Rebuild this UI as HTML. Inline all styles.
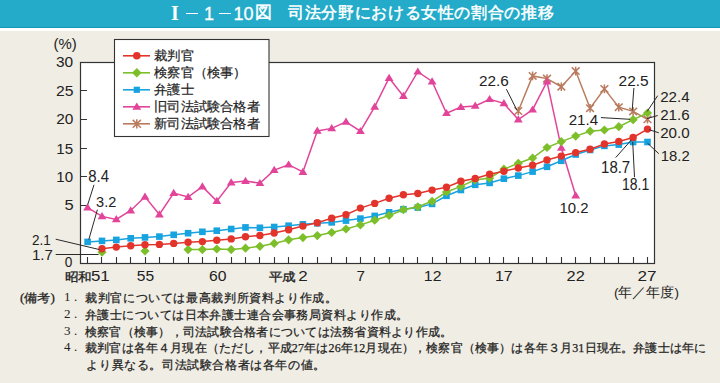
<!DOCTYPE html>
<html><head><meta charset="utf-8"><style>
html,body{margin:0;padding:0;}
body{width:720px;height:383px;overflow:hidden;background:#f0ede4;position:relative;font-family:"Liberation Sans",sans-serif;}
.bar{position:absolute;left:0;top:0;width:720px;height:26.5px;background:#23abc9;border-bottom:1px solid #1596b4;}
.wl{position:absolute;left:0;top:27.5px;width:720px;height:3.5px;background:#fff;}
.tI{position:absolute;left:171px;top:2.5px;color:#fff;font:bold 20px/20px "Liberation Serif",serif;}
.dash{position:absolute;top:12.5px;width:12px;height:1.6px;background:#fff;}
.t1{position:absolute;top:3.8px;color:#fff;font:18px/20px "Liberation Sans",sans-serif;-webkit-text-stroke:0.3px #fff;}
.tj{position:absolute;top:3px;color:#fff;font-size:16px;letter-spacing:0.65px;line-height:20px;white-space:nowrap;-webkit-text-stroke:0.5px #fff;}
svg{position:absolute;left:0;top:0;}
.n{font-family:"Liberation Sans",sans-serif;font-size:15px;fill:#222;}
.cj{font-size:11.6px;stroke:#222;stroke-width:0.3px;}
.lg{font-family:"Liberation Sans",sans-serif;font-size:13px;fill:#222;stroke:#222;stroke-width:0.2px;}
.sm{font-family:"Liberation Sans",sans-serif;font-size:13.5px;fill:#222;}
.nt{font-family:"Liberation Serif",serif;font-size:12px;fill:#222;stroke:#222;stroke-width:0.25px;}
.nd{font-family:"Liberation Serif",serif;font-size:13px;fill:#222;}
</style></head><body>
<div class="bar"></div><div class="wl"></div>
<div class="tI">I</div><div class="dash" style="left:186px"></div><div class="t1" style="left:204px">1</div><div class="dash" style="left:219px"></div><div class="t1" style="left:233.5px">10</div><div class="tj" style="left:255px;font-size:17px;top:2.5px">図</div><div class="tj" style="left:288px">司法分野における女性の割合の推移</div>
<svg width="720" height="383" viewBox="0 0 720 383">
<rect x="80.5" y="62.5" width="574" height="201" fill="#fff" stroke="#333" stroke-width="1.2"/>
<path d="M87.5 257V263M101.5 257V263M116.5 257V263M130.5 257V263M145.5 257V263M159.5 257V263M173.5 257V263M188.5 257V263M202.5 257V263M216.5 257V263M231.5 257V263M245.5 257V263M259.5 257V263M274.5 257V263M288.5 257V263M302.5 257V263M317.5 257V263M331.5 257V263M346.5 257V263M360.5 257V263M374.5 257V263M389.5 257V263M403.5 257V263M417.5 257V263M432.5 257V263M446.5 257V263M460.5 257V263M475.5 257V263M489.5 257V263M503.5 257V263M518.5 257V263M532.5 257V263M546.5 257V263M561.5 257V263M575.5 257V263M590.5 257V263M604.5 257V263M618.5 257V263M633.5 257V263M647.5 257V263" stroke="#333" stroke-width="1.1"/>
<path d="M80 90.5H87M80 119.5H87M80 148.5H87M80 176.5H87M80 205.5H87" stroke="#333" stroke-width="1.1"/>
<polyline points="518.3,111.0 532.6,75.9 547.0,78.6 561.3,86.7 575.7,71.1 590.1,108.2 604.4,88.9 618.8,107.2 633.1,111.4 647.5,119.3" fill="none" stroke="#b97b5e" stroke-width="1.5"/>
<path d="M518.3 106.7V115.3M514.4 107.3L522.1 114.7M514.4 114.7L522.1 107.3" stroke="#b97b5e" stroke-width="1.5" fill="none"/>
<path d="M532.6 71.6V80.2M528.8 72.2L536.5 79.6M528.8 79.6L536.5 72.2" stroke="#b97b5e" stroke-width="1.5" fill="none"/>
<path d="M547.0 74.3V82.9M543.1 74.9L550.9 82.3M543.1 82.3L550.9 74.9" stroke="#b97b5e" stroke-width="1.5" fill="none"/>
<path d="M561.3 82.4V91.0M557.5 83.0L565.2 90.4M557.5 90.4L565.2 83.0" stroke="#b97b5e" stroke-width="1.5" fill="none"/>
<path d="M575.7 66.8V75.4M571.8 67.4L579.6 74.8M571.8 74.8L579.6 67.4" stroke="#b97b5e" stroke-width="1.5" fill="none"/>
<path d="M590.1 103.9V112.5M586.2 104.5L593.9 111.9M586.2 111.9L593.9 104.5" stroke="#b97b5e" stroke-width="1.5" fill="none"/>
<path d="M604.4 84.6V93.2M600.5 85.2L608.3 92.6M600.5 92.6L608.3 85.2" stroke="#b97b5e" stroke-width="1.5" fill="none"/>
<path d="M618.8 102.9V111.5M614.9 103.5L622.6 110.9M614.9 110.9L622.6 103.5" stroke="#b97b5e" stroke-width="1.5" fill="none"/>
<path d="M633.1 107.1V115.7M629.3 107.7L637.0 115.1M629.3 115.1L637.0 107.7" stroke="#b97b5e" stroke-width="1.5" fill="none"/>
<path d="M647.5 115.0V123.6M643.6 115.6L651.4 123.0M643.6 123.0L651.4 115.6" stroke="#b97b5e" stroke-width="1.5" fill="none"/>
<polyline points="87.6,207.6 102.0,216.4 116.3,219.4 130.7,210.5 145.0,196.8 159.4,214.5 173.7,193.0 188.1,197.0 202.4,186.6 216.8,201.1 231.2,182.5 245.5,181.1 259.9,183.2 274.2,170.1 288.6,164.7 302.9,172.0 317.3,130.9 331.7,128.4 346.0,121.8 360.4,131.2 374.7,106.8 389.1,78.0 403.4,96.1 417.8,71.7 432.1,81.5 446.5,113.2 460.9,107.0 475.2,105.9 489.6,99.2 503.9,103.4 518.3,119.6 532.6,109.7 547.0,81.7 561.3,147.8 575.7,195.5" fill="none" stroke="#e2449a" stroke-width="1.5"/>
<path d="M87.6 203.3L92.0 210.5L83.2 210.5Z" fill="#e2449a"/>
<path d="M102.0 212.1L106.4 219.3L97.6 219.3Z" fill="#e2449a"/>
<path d="M116.3 215.1L120.7 222.3L111.9 222.3Z" fill="#e2449a"/>
<path d="M130.7 206.2L135.1 213.4L126.3 213.4Z" fill="#e2449a"/>
<path d="M145.0 192.5L149.4 199.7L140.6 199.7Z" fill="#e2449a"/>
<path d="M159.4 210.2L163.8 217.4L155.0 217.4Z" fill="#e2449a"/>
<path d="M173.7 188.7L178.1 195.9L169.3 195.9Z" fill="#e2449a"/>
<path d="M188.1 192.7L192.5 199.9L183.7 199.9Z" fill="#e2449a"/>
<path d="M202.4 182.3L206.8 189.5L198.0 189.5Z" fill="#e2449a"/>
<path d="M216.8 196.8L221.2 204.0L212.4 204.0Z" fill="#e2449a"/>
<path d="M231.2 178.2L235.6 185.4L226.8 185.4Z" fill="#e2449a"/>
<path d="M245.5 176.8L249.9 184.0L241.1 184.0Z" fill="#e2449a"/>
<path d="M259.9 178.9L264.3 186.1L255.5 186.1Z" fill="#e2449a"/>
<path d="M274.2 165.8L278.6 173.0L269.8 173.0Z" fill="#e2449a"/>
<path d="M288.6 160.4L293.0 167.6L284.2 167.6Z" fill="#e2449a"/>
<path d="M302.9 167.7L307.3 174.9L298.5 174.9Z" fill="#e2449a"/>
<path d="M317.3 126.6L321.7 133.8L312.9 133.8Z" fill="#e2449a"/>
<path d="M331.7 124.1L336.1 131.3L327.3 131.3Z" fill="#e2449a"/>
<path d="M346.0 117.5L350.4 124.7L341.6 124.7Z" fill="#e2449a"/>
<path d="M360.4 126.9L364.8 134.1L356.0 134.1Z" fill="#e2449a"/>
<path d="M374.7 102.5L379.1 109.7L370.3 109.7Z" fill="#e2449a"/>
<path d="M389.1 73.7L393.5 80.9L384.7 80.9Z" fill="#e2449a"/>
<path d="M403.4 91.8L407.8 99.0L399.0 99.0Z" fill="#e2449a"/>
<path d="M417.8 67.4L422.2 74.6L413.4 74.6Z" fill="#e2449a"/>
<path d="M432.1 77.2L436.5 84.4L427.7 84.4Z" fill="#e2449a"/>
<path d="M446.5 108.9L450.9 116.1L442.1 116.1Z" fill="#e2449a"/>
<path d="M460.9 102.7L465.3 109.9L456.5 109.9Z" fill="#e2449a"/>
<path d="M475.2 101.6L479.6 108.8L470.8 108.8Z" fill="#e2449a"/>
<path d="M489.6 94.9L494.0 102.1L485.2 102.1Z" fill="#e2449a"/>
<path d="M503.9 99.1L508.3 106.3L499.5 106.3Z" fill="#e2449a"/>
<path d="M518.3 115.3L522.7 122.5L513.9 122.5Z" fill="#e2449a"/>
<path d="M532.6 105.4L537.0 112.6L528.2 112.6Z" fill="#e2449a"/>
<path d="M547.0 77.4L551.4 84.6L542.6 84.6Z" fill="#e2449a"/>
<path d="M561.3 143.5L565.7 150.7L556.9 150.7Z" fill="#e2449a"/>
<path d="M575.7 191.2L580.1 198.4L571.3 198.4Z" fill="#e2449a"/>
<polyline points="87.6,241.9 102.0,240.9 116.3,239.9 130.7,238.3 145.0,237.4 159.4,236.6 173.7,234.8 188.1,233.2 202.4,231.8 216.8,230.7 231.2,229.0 245.5,227.4 259.9,227.8 274.2,227.0 288.6,225.7 302.9,224.3 317.3,223.3 331.7,222.4 346.0,220.6 360.4,218.6 374.7,215.9 389.1,212.3 403.4,209.2 417.8,207.6 432.1,203.9 446.5,195.8 460.9,190.0 475.2,184.8 489.6,182.9 503.9,178.7 518.3,175.6 532.6,171.6 547.0,166.8 561.3,160.8 575.7,154.5 590.1,150.0 604.4,145.9 618.8,144.6 633.1,142.0 647.5,142.0" fill="none" stroke="#17a3e0" stroke-width="1.5"/>
<rect x="84.3" y="238.6" width="6.6" height="6.6" fill="#17a3e0"/>
<rect x="98.7" y="237.6" width="6.6" height="6.6" fill="#17a3e0"/>
<rect x="113.0" y="236.6" width="6.6" height="6.6" fill="#17a3e0"/>
<rect x="127.4" y="235.0" width="6.6" height="6.6" fill="#17a3e0"/>
<rect x="141.7" y="234.1" width="6.6" height="6.6" fill="#17a3e0"/>
<rect x="156.1" y="233.3" width="6.6" height="6.6" fill="#17a3e0"/>
<rect x="170.4" y="231.5" width="6.6" height="6.6" fill="#17a3e0"/>
<rect x="184.8" y="229.9" width="6.6" height="6.6" fill="#17a3e0"/>
<rect x="199.1" y="228.5" width="6.6" height="6.6" fill="#17a3e0"/>
<rect x="213.5" y="227.4" width="6.6" height="6.6" fill="#17a3e0"/>
<rect x="227.9" y="225.7" width="6.6" height="6.6" fill="#17a3e0"/>
<rect x="242.2" y="224.1" width="6.6" height="6.6" fill="#17a3e0"/>
<rect x="256.6" y="224.5" width="6.6" height="6.6" fill="#17a3e0"/>
<rect x="270.9" y="223.7" width="6.6" height="6.6" fill="#17a3e0"/>
<rect x="285.3" y="222.4" width="6.6" height="6.6" fill="#17a3e0"/>
<rect x="299.6" y="221.0" width="6.6" height="6.6" fill="#17a3e0"/>
<rect x="314.0" y="220.0" width="6.6" height="6.6" fill="#17a3e0"/>
<rect x="328.4" y="219.1" width="6.6" height="6.6" fill="#17a3e0"/>
<rect x="342.7" y="217.3" width="6.6" height="6.6" fill="#17a3e0"/>
<rect x="357.1" y="215.3" width="6.6" height="6.6" fill="#17a3e0"/>
<rect x="371.4" y="212.6" width="6.6" height="6.6" fill="#17a3e0"/>
<rect x="385.8" y="209.0" width="6.6" height="6.6" fill="#17a3e0"/>
<rect x="400.1" y="205.9" width="6.6" height="6.6" fill="#17a3e0"/>
<rect x="414.5" y="204.3" width="6.6" height="6.6" fill="#17a3e0"/>
<rect x="428.8" y="200.6" width="6.6" height="6.6" fill="#17a3e0"/>
<rect x="443.2" y="192.5" width="6.6" height="6.6" fill="#17a3e0"/>
<rect x="457.6" y="186.7" width="6.6" height="6.6" fill="#17a3e0"/>
<rect x="471.9" y="181.5" width="6.6" height="6.6" fill="#17a3e0"/>
<rect x="486.3" y="179.6" width="6.6" height="6.6" fill="#17a3e0"/>
<rect x="500.6" y="175.4" width="6.6" height="6.6" fill="#17a3e0"/>
<rect x="515.0" y="172.3" width="6.6" height="6.6" fill="#17a3e0"/>
<rect x="529.3" y="168.3" width="6.6" height="6.6" fill="#17a3e0"/>
<rect x="543.7" y="163.5" width="6.6" height="6.6" fill="#17a3e0"/>
<rect x="558.0" y="157.5" width="6.6" height="6.6" fill="#17a3e0"/>
<rect x="572.4" y="151.2" width="6.6" height="6.6" fill="#17a3e0"/>
<rect x="586.8" y="146.7" width="6.6" height="6.6" fill="#17a3e0"/>
<rect x="601.1" y="142.6" width="6.6" height="6.6" fill="#17a3e0"/>
<rect x="615.5" y="141.3" width="6.6" height="6.6" fill="#17a3e0"/>
<rect x="629.8" y="138.7" width="6.6" height="6.6" fill="#17a3e0"/>
<rect x="644.2" y="138.7" width="6.6" height="6.6" fill="#17a3e0"/>
<polyline points="188.1,249.6 202.4,249.6 216.8,249.0 231.2,249.6 245.5,248.2 259.9,246.3 274.2,243.4 288.6,239.8 302.9,237.6 317.3,235.6 331.7,232.5 346.0,229.0 360.4,224.9 374.7,220.2 389.1,215.5 403.4,209.7 417.8,206.8 432.1,201.3 446.5,192.0 460.9,186.4 475.2,179.8 489.6,178.2 503.9,169.2 518.3,163.3 532.6,158.0 547.0,147.5 561.3,141.6 575.7,136.1 590.1,131.2 604.4,130.0 618.8,126.7 633.1,119.7 647.5,113.0" fill="none" stroke="#7cbf2a" stroke-width="1.5"/>
<path d="M102.0 247.6L106.6 252.2L102.0 256.8L97.4 252.2Z" fill="#7cbf2a"/>
<path d="M145.0 246.4L149.6 251.0L145.0 255.6L140.4 251.0Z" fill="#7cbf2a"/>
<path d="M188.1 245.0L192.7 249.6L188.1 254.2L183.5 249.6Z" fill="#7cbf2a"/>
<path d="M202.4 245.0L207.0 249.6L202.4 254.2L197.8 249.6Z" fill="#7cbf2a"/>
<path d="M216.8 244.4L221.4 249.0L216.8 253.6L212.2 249.0Z" fill="#7cbf2a"/>
<path d="M231.2 245.0L235.8 249.6L231.2 254.2L226.6 249.6Z" fill="#7cbf2a"/>
<path d="M245.5 243.6L250.1 248.2L245.5 252.8L240.9 248.2Z" fill="#7cbf2a"/>
<path d="M259.9 241.7L264.5 246.3L259.9 250.9L255.3 246.3Z" fill="#7cbf2a"/>
<path d="M274.2 238.8L278.8 243.4L274.2 248.0L269.6 243.4Z" fill="#7cbf2a"/>
<path d="M288.6 235.2L293.2 239.8L288.6 244.4L284.0 239.8Z" fill="#7cbf2a"/>
<path d="M302.9 233.0L307.5 237.6L302.9 242.2L298.3 237.6Z" fill="#7cbf2a"/>
<path d="M317.3 231.0L321.9 235.6L317.3 240.2L312.7 235.6Z" fill="#7cbf2a"/>
<path d="M331.7 227.9L336.3 232.5L331.7 237.1L327.1 232.5Z" fill="#7cbf2a"/>
<path d="M346.0 224.4L350.6 229.0L346.0 233.6L341.4 229.0Z" fill="#7cbf2a"/>
<path d="M360.4 220.3L365.0 224.9L360.4 229.5L355.8 224.9Z" fill="#7cbf2a"/>
<path d="M374.7 215.6L379.3 220.2L374.7 224.8L370.1 220.2Z" fill="#7cbf2a"/>
<path d="M389.1 210.9L393.7 215.5L389.1 220.1L384.5 215.5Z" fill="#7cbf2a"/>
<path d="M403.4 205.1L408.0 209.7L403.4 214.3L398.8 209.7Z" fill="#7cbf2a"/>
<path d="M417.8 202.2L422.4 206.8L417.8 211.4L413.2 206.8Z" fill="#7cbf2a"/>
<path d="M432.1 196.7L436.7 201.3L432.1 205.9L427.5 201.3Z" fill="#7cbf2a"/>
<path d="M446.5 187.4L451.1 192.0L446.5 196.6L441.9 192.0Z" fill="#7cbf2a"/>
<path d="M460.9 181.8L465.5 186.4L460.9 191.0L456.3 186.4Z" fill="#7cbf2a"/>
<path d="M475.2 175.2L479.8 179.8L475.2 184.4L470.6 179.8Z" fill="#7cbf2a"/>
<path d="M489.6 173.6L494.2 178.2L489.6 182.8L485.0 178.2Z" fill="#7cbf2a"/>
<path d="M503.9 164.6L508.5 169.2L503.9 173.8L499.3 169.2Z" fill="#7cbf2a"/>
<path d="M518.3 158.7L522.9 163.3L518.3 167.9L513.7 163.3Z" fill="#7cbf2a"/>
<path d="M532.6 153.4L537.2 158.0L532.6 162.6L528.0 158.0Z" fill="#7cbf2a"/>
<path d="M547.0 142.9L551.6 147.5L547.0 152.1L542.4 147.5Z" fill="#7cbf2a"/>
<path d="M561.3 137.0L565.9 141.6L561.3 146.2L556.7 141.6Z" fill="#7cbf2a"/>
<path d="M575.7 131.5L580.3 136.1L575.7 140.7L571.1 136.1Z" fill="#7cbf2a"/>
<path d="M590.1 126.6L594.7 131.2L590.1 135.8L585.5 131.2Z" fill="#7cbf2a"/>
<path d="M604.4 125.4L609.0 130.0L604.4 134.6L599.8 130.0Z" fill="#7cbf2a"/>
<path d="M618.8 122.1L623.4 126.7L618.8 131.3L614.2 126.7Z" fill="#7cbf2a"/>
<path d="M633.1 115.1L637.7 119.7L633.1 124.3L628.5 119.7Z" fill="#7cbf2a"/>
<path d="M647.5 108.4L652.1 113.0L647.5 117.6L642.9 113.0Z" fill="#7cbf2a"/>
<polyline points="102.0,248.7 116.3,247.1 130.7,245.8 145.0,244.8 159.4,244.4 173.7,243.4 188.1,242.2 202.4,241.6 216.8,240.3 231.2,238.9 245.5,236.7 259.9,235.5 274.2,233.0 288.6,229.7 302.9,226.1 317.3,222.8 331.7,218.2 346.0,214.8 360.4,208.1 374.7,203.4 389.1,198.2 403.4,194.8 417.8,193.5 432.1,190.1 446.5,187.3 460.9,181.3 475.2,178.5 489.6,174.3 503.9,171.2 518.3,168.0 532.6,165.3 547.0,160.0 561.3,156.1 575.7,152.6 590.1,149.3 604.4,144.0 618.8,141.4 633.1,137.5 647.5,129.1" fill="none" stroke="#e3342c" stroke-width="1.5"/>
<circle cx="102.0" cy="248.7" r="3.7" fill="#e3342c"/>
<circle cx="116.3" cy="247.1" r="3.7" fill="#e3342c"/>
<circle cx="130.7" cy="245.8" r="3.7" fill="#e3342c"/>
<circle cx="145.0" cy="244.8" r="3.7" fill="#e3342c"/>
<circle cx="159.4" cy="244.4" r="3.7" fill="#e3342c"/>
<circle cx="173.7" cy="243.4" r="3.7" fill="#e3342c"/>
<circle cx="188.1" cy="242.2" r="3.7" fill="#e3342c"/>
<circle cx="202.4" cy="241.6" r="3.7" fill="#e3342c"/>
<circle cx="216.8" cy="240.3" r="3.7" fill="#e3342c"/>
<circle cx="231.2" cy="238.9" r="3.7" fill="#e3342c"/>
<circle cx="245.5" cy="236.7" r="3.7" fill="#e3342c"/>
<circle cx="259.9" cy="235.5" r="3.7" fill="#e3342c"/>
<circle cx="274.2" cy="233.0" r="3.7" fill="#e3342c"/>
<circle cx="288.6" cy="229.7" r="3.7" fill="#e3342c"/>
<circle cx="302.9" cy="226.1" r="3.7" fill="#e3342c"/>
<circle cx="317.3" cy="222.8" r="3.7" fill="#e3342c"/>
<circle cx="331.7" cy="218.2" r="3.7" fill="#e3342c"/>
<circle cx="346.0" cy="214.8" r="3.7" fill="#e3342c"/>
<circle cx="360.4" cy="208.1" r="3.7" fill="#e3342c"/>
<circle cx="374.7" cy="203.4" r="3.7" fill="#e3342c"/>
<circle cx="389.1" cy="198.2" r="3.7" fill="#e3342c"/>
<circle cx="403.4" cy="194.8" r="3.7" fill="#e3342c"/>
<circle cx="417.8" cy="193.5" r="3.7" fill="#e3342c"/>
<circle cx="432.1" cy="190.1" r="3.7" fill="#e3342c"/>
<circle cx="446.5" cy="187.3" r="3.7" fill="#e3342c"/>
<circle cx="460.9" cy="181.3" r="3.7" fill="#e3342c"/>
<circle cx="475.2" cy="178.5" r="3.7" fill="#e3342c"/>
<circle cx="489.6" cy="174.3" r="3.7" fill="#e3342c"/>
<circle cx="503.9" cy="171.2" r="3.7" fill="#e3342c"/>
<circle cx="518.3" cy="168.0" r="3.7" fill="#e3342c"/>
<circle cx="532.6" cy="165.3" r="3.7" fill="#e3342c"/>
<circle cx="547.0" cy="160.0" r="3.7" fill="#e3342c"/>
<circle cx="561.3" cy="156.1" r="3.7" fill="#e3342c"/>
<circle cx="575.7" cy="152.6" r="3.7" fill="#e3342c"/>
<circle cx="590.1" cy="149.3" r="3.7" fill="#e3342c"/>
<circle cx="604.4" cy="144.0" r="3.7" fill="#e3342c"/>
<circle cx="618.8" cy="141.4" r="3.7" fill="#e3342c"/>
<circle cx="633.1" cy="137.5" r="3.7" fill="#e3342c"/>
<circle cx="647.5" cy="129.1" r="3.7" fill="#e3342c"/>
<path d="M55.7 239.2L99.5 249.6M55.7 254.5L98.6 254.5M94 184.8L87.8 204.4M97.4 209.6L88.8 239.6M506.4 89.2L516.9 110.1M633.9 88L632.2 110.3M657.7 95.7L647.2 111.4M657.7 115.5L646.8 118.7M600.9 117.6L630.1 119.3M649.1 129.7L658.8 132.8M647.6 143.3L658.8 153.7M615.7 157.6L631.4 139.9M634.5 177.2L632.7 142" stroke="#2a2a2a" stroke-width="1" fill="none"/>
<rect x="114.5" y="39.5" width="154.5" height="97" fill="#fff" stroke="#333" stroke-width="1.1"/>
<path d="M123 55.8H150" stroke="#e3342c" stroke-width="1.6"/>
<circle cx="136.8" cy="55.8" r="3.8" fill="#e3342c"/>
<text transform="translate(154.3,59.6) scale(1.03,1)" class="lg">裁判官</text>
<path d="M123 72.8H150" stroke="#7cbf2a" stroke-width="1.6"/>
<path d="M136.8 68.0L141.6 72.8L136.8 77.6L132.0 72.8Z" fill="#7cbf2a"/>
<text transform="translate(154.3,76.6) scale(1.03,1)" class="lg">検察官（検事）</text>
<path d="M123 89.8H150" stroke="#17a3e0" stroke-width="1.6"/>
<rect x="133.7" y="86.7" width="6.2" height="6.2" fill="#17a3e0"/>
<text transform="translate(154.3,93.6) scale(1.03,1)" class="lg">弁護士</text>
<path d="M123 106.8H150" stroke="#e2449a" stroke-width="1.6"/>
<path d="M136.8 102.4L141.2 109.8L132.4 109.8Z" fill="#e2449a"/>
<text transform="translate(154.3,110.6) scale(1.03,1)" class="lg">旧司法試験合格者</text>
<path d="M123 123.8H150" stroke="#b97b5e" stroke-width="1.6"/>
<path d="M136.8 119.2V128.4M132.7 119.9L140.9 127.7M132.7 127.7L140.9 119.9" stroke="#b97b5e" stroke-width="1.5" fill="none"/>
<text transform="translate(154.3,127.6) scale(1.03,1)" class="lg">新司法試験合格者</text>
<text transform="translate(56.00,67.00) scale(1.029,1.000)" class="n">30</text>
<text transform="translate(56.00,96.00) scale(1.047,1.000)" class="n">25</text>
<text transform="translate(56.30,124.40) scale(1.029,0.990)" class="n">20</text>
<text transform="translate(56.29,153.60) scale(1.006,0.950)" class="n">15</text>
<text transform="translate(56.29,181.80) scale(1.006,0.950)" class="n">10</text>
<text transform="translate(64.60,210.00) scale(1.100,0.950)" class="n">5</text>
<text transform="translate(64.80,266.60) scale(0.911,0.950)" class="n">0</text>
<text transform="translate(53.50,49.33) scale(0.996,0.957)" class="n">(%)</text>
<text transform="translate(32.00,244.70) scale(0.905,1.010)" class="n">2.1</text>
<text transform="translate(31.89,260.20) scale(1.005,1.010)" class="n">1.7</text>
<text transform="translate(88.30,182.20) scale(0.995,1.050)" class="n">8.4</text>
<text transform="translate(96.10,207.00) scale(0.971,0.950)" class="n">3.2</text>
<text transform="translate(478.90,85.70) scale(1.021,1.000)" class="n">22.6</text>
<text transform="translate(618.60,85.90) scale(1.031,1.000)" class="n">22.5</text>
<text transform="translate(660.20,101.70) scale(1.010,1.000)" class="n">22.4</text>
<text transform="translate(660.20,119.50) scale(1.010,0.980)" class="n">21.6</text>
<text transform="translate(568.70,124.50) scale(1.007,1.000)" class="n">21.4</text>
<text transform="translate(660.20,137.70) scale(1.010,0.980)" class="n">20.0</text>
<text transform="translate(660.71,160.70) scale(0.993,0.980)" class="n">18.2</text>
<text transform="translate(601.10,173.30) scale(0.996,1.050)" class="n">18.7</text>
<text transform="translate(622.07,190.30) scale(0.932,1.050)" class="n">18.1</text>
<text transform="translate(559.40,212.50) scale(0.996,0.950)" class="n">10.2</text>
<text transform="translate(136.70,281.10) scale(1.041,1.000)" class="n">55</text>
<text transform="translate(208.90,281.00) scale(1.047,1.000)" class="n">60</text>
<text transform="translate(356.50,281.00) scale(1.013,1.000)" class="n">7</text>
<text transform="translate(423.85,281.00) scale(1.053,1.000)" class="n">12</text>
<text transform="translate(494.93,281.00) scale(1.067,1.000)" class="n">17</text>
<text transform="translate(566.50,281.00) scale(1.094,1.000)" class="n">22</text>
<text transform="translate(637.50,281.00) scale(1.144,1.000)" class="n">27</text>
<text transform="translate(87.6,281) scale(1.13,1)" text-anchor="middle" class="n xl"><tspan class="cj">昭和</tspan>51</text>
<text transform="translate(288.6,281) scale(1.13,1)" text-anchor="middle" class="n xl"><tspan class="cj">平成</tspan><tspan dx="3">2</tspan></text>
<text transform="translate(646.5,296.5) scale(1.0,1)" text-anchor="middle" class="sm">(年／年度)</text>
<text x="20" y="302.3" class="nt" textLength="35" lengthAdjust="spacingAndGlyphs">(備考)</text>
<text x="64" y="301.3" class="nd">1</text><text x="74" y="301.3" class="nd">.</text>
<text x="64" y="317.8" class="nd">2</text><text x="74" y="317.8" class="nd">.</text>
<text x="64" y="334.6" class="nd">3</text><text x="74" y="334.6" class="nd">.</text>
<text x="64" y="351.0" class="nd">4</text><text x="74" y="351.0" class="nd">.</text>
<text x="85" y="302.3" class="nt" textLength="252" lengthAdjust="spacing">裁判官については最高裁判所資料より作成。</text>
<text x="85" y="318.8" class="nt" textLength="323" lengthAdjust="spacing">弁護士については日本弁護士連合会事務局資料より作成。</text>
<text x="85" y="335.6" class="nt" textLength="367" lengthAdjust="spacing">検察官（検事），司法試験合格者については法務省資料より作成。</text>
<text x="85" y="352.0" class="nt" textLength="621" lengthAdjust="spacing">裁判官は各年４月現在（ただし，平成27年は26年12月現在），検察官（検事）は各年３月31日現在。弁護士は年に</text>
<text x="86.3" y="368.6" class="nt" textLength="239" lengthAdjust="spacing">より異なる。司法試験合格者は各年の値。</text>
</svg>
</body></html>
